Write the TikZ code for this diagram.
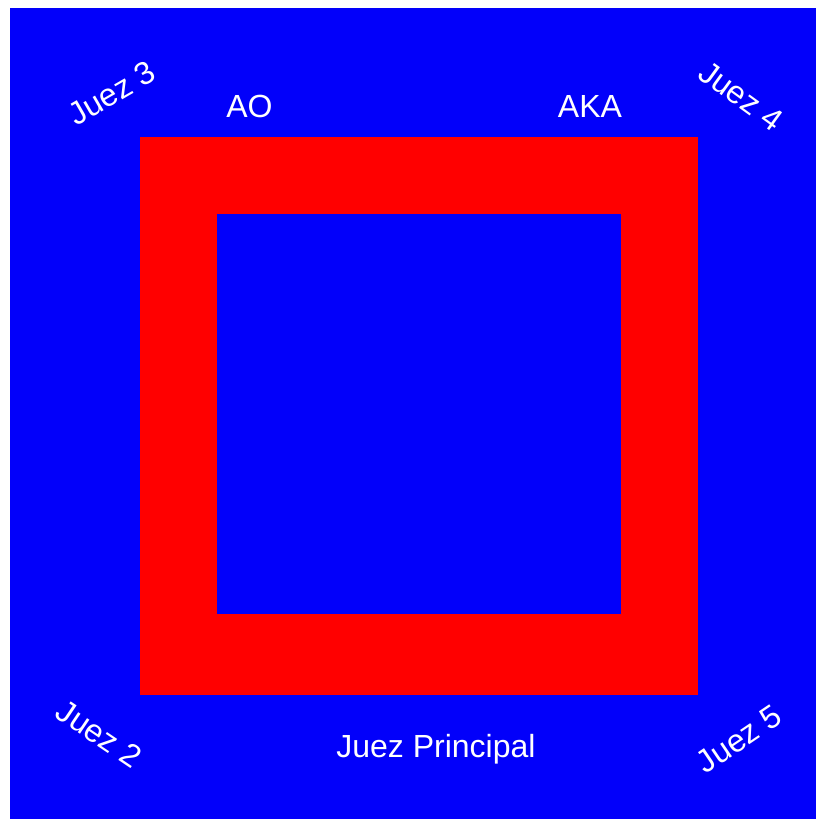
\documentclass[tikz,border=0pt]{standalone}
\usepackage{fontspec}
\setmainfont{Liberation Sans}
\definecolor{matblue}{RGB}{2,0,250}
\definecolor{matred}{RGB}{255,0,0}
\tikzset{
  lbl/.style={text=white, inner sep=0pt, font=\fontsize{32}{38}\selectfont},
  area/.style={fill=matblue, draw=none},
  zone/.style={fill=matred, draw=none}
}
\begin{document}
\begin{tikzpicture}[x=1pt,y=-1pt]
\useasboundingbox (0,0) rectangle (816,819);
\fill[white] (0,0) rectangle (816,819);
\path[area] (10,8) rectangle (816,819);
\path[zone] (140,137) rectangle (698,695);
\path[area] (217,214) rectangle (621,614);
\node[lbl] (ao) at (249.5,106) {AO};
\node[lbl] (aka) at (590,106) {AKA};
\node[lbl] (principal) at (436,749) {Juez Principal};
\node[lbl, rotate=30] (j3) at (112,93) {Juez 3};
\node[lbl, rotate=-36] (j4) at (741,96) {Juez 4};
\node[lbl, rotate=-34] (j2) at (99,734) {Juez 2};
\node[lbl, rotate=34] (j5) at (739,739) {Juez 5};
\end{tikzpicture}
\end{document}
